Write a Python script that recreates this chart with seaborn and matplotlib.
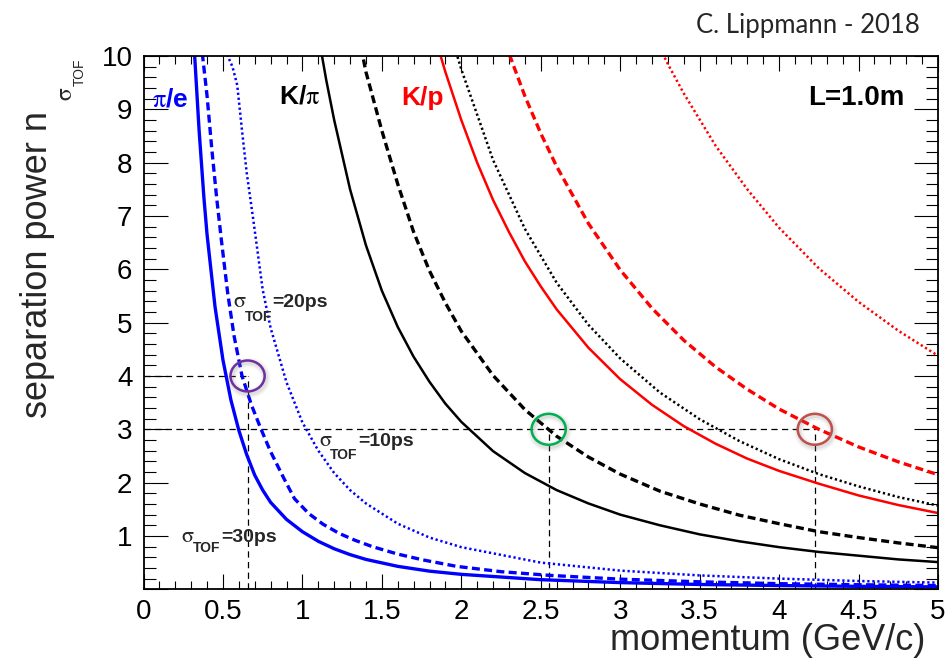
import matplotlib
matplotlib.use("Agg")
import matplotlib.pyplot as plt
import matplotlib.patheffects as pe
from matplotlib.patches import Ellipse
from matplotlib.ticker import MultipleLocator, FuncFormatter
from matplotlib.transforms import offset_copy
import pandas as pd
import seaborn as sns

# Separation power n_sigma versus momentum for a 1.0 m flight path

# pi / e
p_pie_30 = [0.32, 0.35, 0.38, 0.40, 0.45, 0.50, 0.55, 0.60, 0.65, 0.70, 0.75, 0.80, 0.90, 1.0,
            1.1, 1.2, 1.3, 1.4, 1.6, 1.8, 2.0, 2.5, 3.0, 3.5, 4.0, 4.5, 5.0]
n_pie_30 = [10.1, 8.6, 7.35, 6.65, 5.3, 4.3, 3.55, 2.98, 2.52, 2.14, 1.86, 1.63, 1.31, 1.08,
            0.9, 0.76, 0.65, 0.56, 0.43, 0.34, 0.28, 0.18, 0.125, 0.09, 0.07, 0.055, 0.045]

p_pie_20 = [0.37, 0.40, 0.43, 0.46, 0.49, 0.53, 0.57, 0.62, 0.68, 0.74, 0.80, 0.88, 0.95, 1.04,
            1.13, 1.23, 1.33, 1.44, 1.60, 1.76, 1.97, 2.25, 2.56, 3.0, 3.5, 4.0, 4.5, 5.0]
n_pie_20 = [10.05, 9.25, 8.25, 7.35, 6.55, 5.55, 4.75, 4.0, 3.45, 3.0, 2.58, 2.1, 1.7, 1.42,
            1.22, 1.05, 0.92, 0.80, 0.66, 0.55, 0.43, 0.33, 0.26, 0.19, 0.14, 0.105, 0.085, 0.07]

p_pie_10 = [0.50, 0.53, 0.56, 0.59, 0.62, 0.65, 0.69, 0.75, 0.80, 0.90, 1.0, 1.1, 1.2, 1.3,
            1.4, 1.6, 1.8, 2.0, 2.5, 3.0, 3.5, 4.0, 4.5, 5.0]
n_pie_10 = [10.2, 10.0, 9.8, 9.45, 8.6, 7.8, 6.95, 5.62, 4.9, 3.88, 3.13, 2.6, 2.18, 1.86,
            1.61, 1.23, 0.97, 0.79, 0.5, 0.35, 0.26, 0.2, 0.155, 0.125]

# K / pi
p_kpi_30 = [1.05, 1.1, 1.15, 1.2, 1.3, 1.4, 1.5, 1.6, 1.7, 1.8, 1.9, 2.0, 2.2, 2.4, 2.6, 2.8,
            3.0, 3.25, 3.5, 3.75, 4.0, 4.25, 4.5, 4.75, 5.0]
n_kpi_30 = [11.3, 10.4, 9.55, 8.8, 7.5, 6.45, 5.6, 4.92, 4.36, 3.89, 3.48, 3.14, 2.59, 2.18,
            1.86, 1.61, 1.40, 1.20, 1.03, 0.90, 0.79, 0.70, 0.63, 0.56, 0.51]

p_kpi_20 = [1.3, 1.4, 1.5, 1.6, 1.7, 1.8, 1.9, 2.0, 2.2, 2.4, 2.6, 2.8, 3.0, 3.25, 3.5, 3.75,
            4.0, 4.25, 4.5, 4.75, 5.0]
n_kpi_20 = [11.2, 9.7, 8.6, 7.6, 6.7, 5.97, 5.37, 4.84, 4.01, 3.37, 2.87, 2.48, 2.16, 1.84,
            1.60, 1.39, 1.23, 1.08, 0.97, 0.87, 0.78]

p_kpi_10 = [1.8, 1.9, 2.0, 2.2, 2.4, 2.6, 2.8, 3.0, 3.25, 3.5, 3.75, 4.0, 4.25, 4.5, 4.75, 5.0]
n_kpi_10 = [12.0, 10.75, 9.75, 8.05, 6.76, 5.75, 4.96, 4.33, 3.69, 3.19, 2.78, 2.44, 2.16, 1.93,
            1.73, 1.57]

# K / p
p_kp_30 = [1.8, 1.9, 2.0, 2.1, 2.2, 2.3, 2.4, 2.5, 2.6, 2.8, 3.0, 3.2, 3.4, 3.6, 3.8, 4.0,
           4.25, 4.5, 4.75, 5.0]
n_kp_30 = [10.7, 9.7, 8.8, 8.0, 7.3, 6.7, 6.15, 5.68, 5.25, 4.53, 3.94, 3.46, 3.06, 2.73, 2.45,
           2.22, 1.98, 1.76, 1.58, 1.43]

p_kp_20 = [2.2, 2.3, 2.4, 2.5, 2.6, 2.8, 3.0, 3.2, 3.4, 3.6, 3.8, 4.0, 4.25, 4.5, 4.75, 5.0]
n_kp_20 = [10.9, 10.05, 9.25, 8.55, 7.93, 6.86, 5.99, 5.27, 4.67, 4.17, 3.75, 3.38, 3.0, 2.67,
           2.39, 2.15]

p_kp_10 = [3.1, 3.2, 3.3, 3.4, 3.6, 3.8, 4.0, 4.25, 4.5, 4.75, 5.0]
n_kp_10 = [11.1, 10.45, 9.85, 9.3, 8.32, 7.5, 6.78, 6.02, 5.39, 4.85, 4.38]

# highlighted working points (momentum, n_sigma)
mark_p = [0.655, 2.55, 4.225]
mark_n = [4.0, 3.0, 3.0]
mark_colors = ["#7030A0", "#00B050", "#C0504D"]

x_ticks = [0, 0.5, 1, 1.5, 2, 2.5, 3, 3.5, 4, 4.5, 5]
y_ticks = [1, 2, 3, 4, 5, 6, 7, 8, 9, 10]

curves = [
    ("pi/e", 30, p_pie_30, n_pie_30), ("pi/e", 20, p_pie_20, n_pie_20), ("pi/e", 10, p_pie_10, n_pie_10),
    ("K/pi", 30, p_kpi_30, n_kpi_30), ("K/pi", 20, p_kpi_20, n_kpi_20), ("K/pi", 10, p_kpi_10, n_kpi_10),
    ("K/p", 30, p_kp_30, n_kp_30), ("K/p", 20, p_kp_20, n_kp_20), ("K/p", 10, p_kp_10, n_kp_10),
]
pair_color = {"pi/e": "#0000FF", "K/pi": "#000000", "K/p": "#FF0000"}
solid_width = {"pi/e": 2.4, "K/pi": 1.8, "K/p": 1.8}
sigma_style = {
    20: dict(linestyle=(0, (2.4, 1.3)), linewidth=2.4),
    10: dict(linestyle=(0, (0.9, 1.1)), linewidth=1.8),
}

sns.set_theme(style="ticks")
plt.rcParams["font.family"] = ["Liberation Sans", "DejaVu Sans"]
plt.rcParams["mathtext.fontset"] = "stix"
plt.rcParams["axes.linewidth"] = 1.3
plt.rcParams["lines.solid_capstyle"] = "butt"

fig = plt.figure(figsize=(9.46, 6.59), dpi=100)
ax = fig.add_axes([0.1517, 0.1058, 0.8398, 0.8092])

for pair, sigma, p, n in curves:
    df = pd.DataFrame({"momentum": p, "nsigma": n})
    style = sigma_style.get(sigma, dict(linestyle="-", linewidth=solid_width[pair]))
    sns.lineplot(data=df, x="momentum", y="nsigma", ax=ax, color=pair_color[pair],
                 errorbar=None, legend=False, **style)

# dashed guide lines down to the axes from each working point
ref_kw = dict(color="black", linewidth=0.9, linestyle=(0, (5, 3.5)), zorder=1)
for level in sorted(set(mark_n)):
    pmax = max(p for p, n in zip(mark_p, mark_n) if n == level)
    ax.plot([0, pmax], [level, level], **ref_kw)
for p, n in zip(mark_p, mark_n):
    ax.plot([p, p], [0, n], **ref_kw)

for p, n, c in zip(mark_p, mark_n, mark_colors):
    glow = [pe.Stroke(offset=(0.8, -1.5), linewidth=w, foreground="#808080", alpha=a)
            for w, a in ((7, 0.06), (5, 0.08), (3, 0.12))]
    ax.add_patch(Ellipse((p, n), width=0.215, height=0.58, fill=False, edgecolor=c,
                         linewidth=1.8, zorder=5, path_effects=glow + [pe.Normal()]))

ax.set_xlim(0, 5)
ax.set_ylim(0, 10)
ax.set_xticks(x_ticks)
ax.set_yticks([0] + y_ticks)
ax.xaxis.set_minor_locator(MultipleLocator(0.1))
ax.yaxis.set_minor_locator(MultipleLocator(0.2))
ax.xaxis.set_major_formatter(FuncFormatter(lambda v, _: f"{v:g}"))
ax.yaxis.set_major_formatter(FuncFormatter(lambda v, _: "" if v == 0 else f"{v:g}"))
ax.tick_params(which="both", direction="in", top=True, right=True, width=0.8,
               color="black", labelsize=20, labelcolor="black")
ax.tick_params(axis="x", which="major", length=11, pad=7)
ax.tick_params(axis="x", which="minor", length=5.8)
ax.tick_params(axis="y", which="major", length=17, pad=8)
ax.tick_params(axis="y", which="minor", length=8.6)
for s in ax.spines.values():
    s.set_color("black")
ax.set_xlabel("")
ax.set_ylabel("")
ax.grid(False)

# curve family labels
ax.text(0.056, 9.06, r"$\mathrm{\pi}$/e", color="#0000FF", fontsize=19, fontweight="bold",
        va="baseline")
ax.text(0.85, 9.11, r"K/$\mathrm{\pi}$", color="black", fontsize=19, fontweight="bold",
        va="baseline")
ax.text(1.62, 9.08, "K/p", color="#FF0000", fontsize=19, fontweight="bold", va="baseline")
ax.text(4.79, 9.08, "L=1.0m", color="black", fontsize=20, fontweight="bold", va="baseline",
        ha="right")


def sigma_tag(x, y, value, sub_dx, sub_dy, eq_dx):
    ax.text(x, y, r"$\mathrm{\sigma}$", fontsize=16, va="baseline", ha="left")
    ax.text(x, y, "TOF", fontsize=10, fontweight="bold", va="baseline", ha="left",
            transform=offset_copy(ax.transData, fig=fig, x=sub_dx, y=sub_dy, units="points"))
    ax.text(x, y, f"={value}ps", fontsize=14, fontweight="bold", va="baseline", ha="left",
            transform=offset_copy(ax.transData, fig=fig, x=eq_dx, y=0, units="points"))


sigma_tag(0.561, 5.29, 20, 9.1, -9.7, 28.8)
sigma_tag(1.106, 2.69, 10, 8.0, -9.6, 28.3)
sigma_tag(0.236, 0.89, 30, 8.4, -7.5, 28.8)

# axis titles
fig.text(925 / 946, 1 - 641 / 659, "momentum (GeV/c)", fontsize=26, ha="right", va="center")
fig.text(38 / 946, 1 - 264 / 659, "separation power n", fontsize=26, rotation=90,
         ha="center", va="center")
fig.text(66 / 946, 1 - 94 / 659, r"$\mathrm{\sigma}$", fontsize=17, rotation=90,
         ha="center", va="center")
fig.text(80 / 946, 1 - 72 / 659, "TOF", fontsize=10, rotation=90, ha="center", va="center")

fig.text(920 / 946, 1 - 33 / 659, "C. Lippmann - 2018", fontsize=18.5, family="Lato",
         ha="right", va="baseline")

fig.savefig("out.png", dpi=100)
